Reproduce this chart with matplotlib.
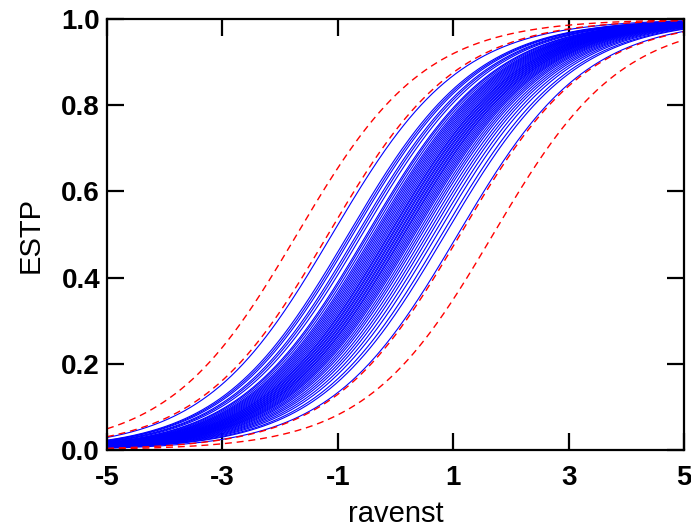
import numpy as np
import matplotlib
matplotlib.use("Agg")
import matplotlib.pyplot as plt

# Fitted logistic model: p = 1 / (1 + exp(-(intercept + slope * ravenst)))
slope = 0.9

# Group-specific curves, given by the ravenst value where ESTP = 0.5
group_midpoints = [
    -1.10,
    -0.82, -0.78, -0.74, -0.67, -0.63, -0.58, -0.50, -0.47, -0.43, -0.39,
    -0.36, -0.33, -0.30, -0.27, -0.24, -0.21, -0.18, -0.15, -0.12, -0.10,
    -0.07, -0.05, -0.02, 0.00, 0.03, 0.05, 0.08, 0.10, 0.13, 0.15,
    0.18, 0.21, 0.24, 0.27, 0.30, 0.33, 0.37, 0.41, 0.45, 0.50,
    0.55, 0.60, 0.66, 0.72, 0.80, 0.86,
    1.08,
]

# Reference band curves (dashed)
band_midpoints = [-1.71, -1.17, 1.12, 1.69]

xticks = [-5, -3, -1, 1, 3, 5]
yticks = [0.0, 0.2, 0.4, 0.6, 0.8, 1.0]
ytick_labels = ["0.0", "0.2", "0.4", "0.6", "0.8", "1.0"]

plt.rcParams["font.family"] = ["Liberation Sans", "DejaVu Sans"]

fig = plt.figure(figsize=(6.91, 5.27), dpi=100)
ax = fig.add_axes([0.1549, 0.1461, 0.8350, 0.8178])

x = np.linspace(-5, 5, 400)


def logistic(mid):
    return 1.0 / (1.0 + np.exp(-slope * (x - mid)))


for m in group_midpoints:
    ax.plot(x, logistic(m), color="#0000ff", lw=0.8)

for m in band_midpoints:
    ax.plot(x, logistic(m), color="#ff0000", lw=1.0, ls=(0, (5, 3.5)))

ax.set_xlim(-5, 5)
ax.set_ylim(0, 1)
ax.set_xticks(xticks)
ax.set_xticklabels([str(t) for t in xticks])
ax.set_yticks(yticks)
ax.set_yticklabels(ytick_labels)

for s in ax.spines.values():
    s.set_linewidth(1.6)

ax.tick_params(axis="both", which="major", direction="in", length=12, width=1.6,
               top=True, right=True, labelsize=20)
ax.tick_params(axis="x", pad=11)
ax.tick_params(axis="y", pad=5)
for lab in ax.get_xticklabels() + ax.get_yticklabels():
    lab.set_fontweight("bold")

ax.set_xlabel("ravenst", fontsize=21, labelpad=6)
ax.set_ylabel("ESTP", fontsize=21, labelpad=12)

fig.savefig("out.png", dpi=100)
